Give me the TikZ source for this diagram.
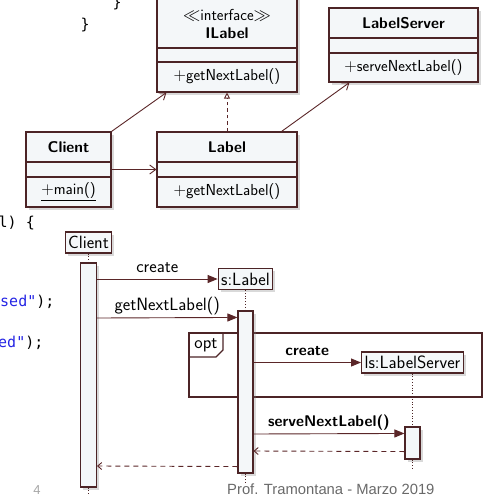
\documentclass[tikz,border=0pt]{standalone}
\usepackage{fontspec}
\newfontfamily\codefont{DejaVu Sans Mono}
\newfontfamily\footfont{Liberation Sans}
\usetikzlibrary{arrows.meta,shadows,positioning,calc}

\definecolor{boxfill}{RGB}{244,247,249}
\definecolor{umlline}{RGB}{76,36,38}
\definecolor{msgcol}{RGB}{90,38,40}
\definecolor{codeblue}{RGB}{36,36,228}
\definecolor{footgray}{RGB}{105,105,105}

\tikzset{
  shade box/.style={drop shadow={shadow xshift=2.5pt,shadow yshift=-2.5pt,opacity=0.3}},
  classbox/.style={draw=umlline, fill=boxfill, line width=1.1pt, inner sep=0pt, shade box},
  lifebox/.style={draw=umlline, fill=boxfill, line width=1.1pt, inner xsep=3pt, minimum height=21pt, font=\sffamily\fontsize{17.8}{20}\selectfont, shade box},
  actbar/.style={draw=umlline, fill=boxfill, line width=1.1pt, inner sep=0pt, minimum width=15pt, shade box},
  divider/.style={draw=umlline, line width=1.1pt},
  ctext/.style={font=\sffamily\fontsize{15.9}{18}\selectfont, inner sep=0pt},
  cname/.style={font=\sffamily\bfseries\fontsize{15.5}{18}\selectfont, inner sep=0pt},
  assoc/.style={draw=msgcol, line width=0.9pt, -{Straight Barb[length=6pt,width=9pt]}},
  realize/.style={draw=msgcol, line width=0.9pt, dash pattern=on 3.5pt off 3pt, -{Triangle[open,length=6pt,width=6pt]}},
  lifeline/.style={draw=umlline, line width=0.8pt, dotted},
  msg/.style={draw=msgcol, line width=0.9pt, -{Triangle[length=10pt,width=8pt]}},
  retmsg/.style={draw=msgcol, line width=0.9pt, dash pattern=on 5pt off 4pt, -{Straight Barb[length=4pt,width=7pt]}},
  msglabel/.style={midway, anchor=base, yshift=7pt, inner sep=0pt, font=\sffamily\fontsize{17.8}{20}\selectfont},
  boldlabel/.style={msglabel, font=\sffamily\bfseries\fontsize{15.5}{18}\selectfont},
  frame/.style={draw=umlline, line width=1.1pt},
  code/.style={anchor=base west, inner sep=0pt, font=\codefont\fontsize{15}{18}\selectfont},
}

\begin{document}
\begin{tikzpicture}[x=1pt, y=-1pt]
  \useasboundingbox (0,0) rectangle (484,496);

  % code lying behind the diagram
  \node[code] (brace1) at (112.5,7) {\}};
  \node[code] (brace2) at (80.5,29) {\}};
  \node[code] (line1) at (-1.5,227) {l) \{};
  \node[code] (line2) at (0,306) {\textcolor{codeblue}{sed"});};
  \node[code] (line3) at (-2,347) {\textcolor{codeblue}{ed"});};

  % class diagram
  \node[classbox, minimum width=140pt, minimum height=96pt] (ilabel) at (227,44) {};
  \draw[divider] (157,48) -- (297,48) (157,62) -- (297,62);
  \node[ctext] (ilabelst) at (227,15) {$\ll$interface$\gg$};
  \node[cname] (ilabelname) at (227,33) {ILabel};
  \node[ctext] (ilabelop) at (227,77) {$+$getNextLabel()};

  \node[classbox, minimum width=149pt, minimum height=74pt] (lserver) at (403.5,45) {};
  \draw[divider] (329,38) -- (478,38) (329,53) -- (478,53);
  \node[cname] (lservername) at (403.5,23) {LabelServer};
  \node[ctext] (lserverop) at (403.5,68) {$+$serveNextLabel()};

  \node[classbox, minimum width=85pt, minimum height=75pt] (client) at (68.5,169.5) {};
  \draw[divider] (26,162) -- (111,162) (26,177) -- (111,177);
  \node[cname] (clientname) at (68.5,147) {Client};
  \node[ctext] (clientop) at (68.5,192) {\underline{$+$main()}};

  \node[classbox, minimum width=140pt, minimum height=75pt] (label) at (227,169.5) {};
  \draw[divider] (157,162) -- (297,162) (157,177) -- (297,177);
  \node[cname] (labelname) at (227,147) {Label};
  \node[ctext] (labelop) at (227,192) {$+$getNextLabel()};

  \draw[assoc] (client.north east) -- ($(ilabel.south west)+(10,0)$);
  \draw[assoc] (client.east) -- (label.west);
  \draw[assoc] ($(label.north east)+(-16,0)$) -- ($(lserver.south west)+(21,0)$);
  \draw[realize] (label.north) -- (ilabel.south);

  % sequence diagram
  \draw[frame] (189,333) rectangle (482,397);
  \draw[frame] (189,357) -- (216,357) -- (223,350) -- (223,333);
  \node[font=\sffamily\fontsize{17.8}{20}\selectfont, anchor=base, inner sep=0pt] (opt) at (206,348) {opt};

  \node[lifebox] (cl) at (88.5,242.5) {Client};
  \node[lifebox] (sl) at (245.5,279) {s:Label};
  \node[lifebox] (ls) at (412.5,362.5) {ls:LabelServer};

  \draw[lifeline] (cl.south) -- (88.5,263);
  \draw[lifeline] (sl.south) -- (245.5,311);
  \draw[lifeline] (ls.south) -- (412.5,427);

  \node[actbar, minimum width=16pt, minimum height=224pt] (clact) at (88.5,375) {};
  \node[actbar, minimum height=162pt] (slact) at (245.5,392) {};
  \node[actbar, minimum height=32pt] (lsact) at (412.5,443) {};

  \draw[lifeline] (clact.south) -- ++(0,12);
  \draw[lifeline] (slact.south) -- ++(0,9);
  \draw[lifeline] (lsact.south) -- ++(0,11);

  \draw[msg] (clact.east |- sl.west) -- (sl.west) node[msglabel] {create};
  \draw[msg] ($(clact.east)+(0,-57)$) -- ($(slact.north west)+(0,7)$) node[msglabel] {getNextLabel()};
  \draw[msg] (slact.east |- ls.west) -- (ls.west) node[boldlabel] {create};
  \draw[msg] ($(slact.east)+(0,42)$) -- ($(lsact.north west)+(0,7)$) node[boldlabel] {serveNextLabel()};
  \draw[retmsg] ($(lsact.south west)+(0,-8)$) -- ($(slact.east)+(0,59)$);
  \draw[retmsg] ($(slact.south west)+(0,-7)$) -- ($(clact.east)+(0,91)$);

  % slide footer
  \node[anchor=base, inner sep=0pt, font=\footfont\fontsize{13}{15}\selectfont, text=gray!70] (pagenum) at (37,494) {4};
  \node[anchor=base west, inner sep=0pt, font=\footfont\fontsize{14.8}{17}\selectfont, text=footgray] (credit) at (227,494) {Prof. Tramontana - Marzo 2019};
\end{tikzpicture}
\end{document}
